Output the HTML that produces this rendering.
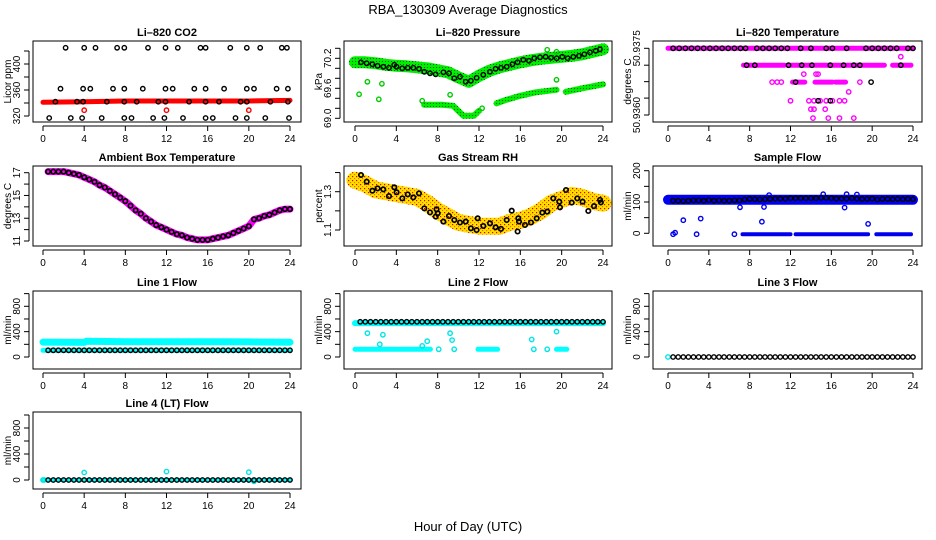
<!DOCTYPE html>
<html><head><meta charset="utf-8"><style>
html,body{margin:0;padding:0;background:#fff}
svg{display:block;font-family:"Liberation Sans",sans-serif}
</style></head><body>
<svg id="chart" width="936" height="540" viewBox="0 0 936 540">
<defs>
<pattern id="rhpat" width="4" height="4" patternUnits="userSpaceOnUse">
<rect width="4" height="4" fill="#ffe000"/><rect x="0" y="0" width="1.2" height="1.2" fill="#e00000"/><rect x="2" y="2" width="1.2" height="1.2" fill="#f07000"/>
</pattern>
<pattern id="prpat" width="3" height="3" patternUnits="userSpaceOnUse">
<rect width="3" height="3" fill="#00ee00"/><rect x="1" y="1" width="1" height="1" fill="#006000"/>
</pattern>
</defs>
<text x="468" y="14" text-anchor="middle" font-size="13">RBA_130309  Average Diagnostics</text>
<text x="468" y="531" text-anchor="middle" font-size="13">Hour of Day (UTC)</text>
</svg>
<script>
// ---------- data ----------
const xTicks = [0,4,8,12,16,20,24];
// CO2
const co2BandH = [0,4,8,12,16,20,24];
const co2BandV = [341,342,343,343,343,343,344];
const co2RedH = [4,12,20];
const co2RedV = [329,329,329];
const co2BlackH = [2.2,4.0,5.1,7.2,7.9,10.2,11.9,13.1,15.3,15.8,18.2,19.8,21.1,23.2,23.7,
 1.7,3.9,4.6,6.8,7.9,9.7,11.9,12.6,14.7,15.8,17.6,19.8,20.5,22.7,23.8,
 1.2,3.3,3.9,6.2,7.9,9.1,11.2,11.9,14.2,15.8,17.1,19.2,19.8,22.1,23.8,
 0.6,2.7,3.8,5.7,7.9,8.6,10.7,11.8,13.6,15.8,16.5,18.7,19.8,21.6,23.9];
const co2BlackV = [425,425,425,425,425,425,425,425,425,425,425,425,425,425,425,
 362,362,362,362,362,362,362,362,362,362,362,362,362,362,362,
 342,342,342,342,342,342,342,342,342,342,342,342,342,342,342,
 317,317,317,317,317,317,317,317,317,317,317,317,317,317,317];
// Pressure
const prBandH = [0,1,2,3,4,5,6,7,8,9,10,11,12,13,14,15,16,17,18,19,20,21,22,23,24];
const prBandV = [70.12,70.12,70.10,70.07,70.05,70.04,70.02,70.00,69.96,69.92,69.82,69.73,69.85,69.95,70.02,70.07,70.12,70.16,70.19,70.21,70.23,70.25,70.28,70.33,70.38];
const prLowH = [6.7,7.5,8.5,9.5,10.0,10.5,11.5,12.0,NaN,13.7,14.5,16.0,17.5,19.5,NaN,20.4,22,24];
const prLowV = [69.27,69.27,69.27,69.25,69.15,69.05,69.05,69.15,NaN,69.3,69.36,69.45,69.52,69.57,NaN,69.53,69.6,69.68];
const prGreenH = [0.4,1.2,2.3,2.6,6.5,9.2,18.6,19.5,19.5,12.3];
const prGreenV = [69.48,69.73,69.38,69.69,69.35,69.47,70.37,70.33,69.77,69.2];
const prBlackH = [0.58,1.13,1.68,2.19,2.74,3.29,3.80,4.03,4.58,5.10,5.64,6.19,6.71,7.26,7.81,8.55,9.10,9.61,10.16,10.71,11.22,11.77,12.42,13.06,13.61,14.13,14.68,15.23,15.74,16.29,16.84,17.35,17.90,18.45,18.97,19.52,20.06,20.58,21.13,21.68,22.19,22.74,23.29,23.71];
const prBlackV = [70.12,70.10,70.08,70.05,70.03,70.01,70.07,70.03,70.0,70.01,70.01,69.99,69.93,69.90,69.88,69.92,69.90,69.80,69.83,69.73,69.75,69.81,69.87,69.93,69.99,70.01,70.03,70.08,70.12,70.17,70.15,70.2,70.22,70.23,70.21,70.2,70.23,70.2,70.23,70.25,70.28,70.32,70.35,70.38];
// Li-820 Temperature
const tpSegStart = [0,7.4,11.7,22.0,12.2,14.4,16.4];
const tpSegEnd   = [24,11.4,21.2,23.8,13.4,16.1,17.4];
const tpSegV = [50.9375,50.93712,50.93712,50.93712,50.93674,50.93674,50.93674];
const tpMagH = [22.8,13.3,14.5,14.7,10.2,10.7,11.1,18.8,17.7,12.0,13.8,14.3,14.9,15.5,16.1,16.8,17.3,14.0,14.3,15.4,14.2,15.7,16.8,18.2];
const tpMagV = [50.93731,50.93692,50.93692,50.93692,50.93674,50.93674,50.93674,50.93674,50.93652,50.93632,50.93632,50.93632,50.93632,50.93632,50.93632,50.93632,50.93632,50.93613,50.93613,50.93613,50.93593,50.93593,50.93593,50.93593];
const tpBlackH = [0.5,1.1,1.7,2.3,2.9,3.5,4.1,4.7,5.3,5.9,6.5,7.1,7.6,8.7,9.3,9.9,10.5,11.1,11.7,13.0,14.0,15.5,16.1,17.5,19.4,20.0,20.6,21.2,21.8,22.4,23.5,24.0,
 7.7,8.5,11.8,13.1,14.1,15.9,17.2,18.2,18.8,22.8,12.5,19.9,14.7,15.9];
const tpBlackV = [50.9375,50.9375,50.9375,50.9375,50.9375,50.9375,50.9375,50.9375,50.9375,50.9375,50.9375,50.9375,50.9375,50.9375,50.9375,50.9375,50.9375,50.9375,50.9375,50.9375,50.9375,50.9375,50.9375,50.9375,50.9375,50.9375,50.9375,50.9375,50.9375,50.9375,50.9375,50.9375,
 50.93712,50.93712,50.93712,50.93712,50.93712,50.93712,50.93712,50.93712,50.93712,50.93712,50.93674,50.93674,50.93632,50.93632];
// Ambient box temperature
const ambH = [0.5,1,1.5,2,2.5,3,3.5,4,4.5,5,5.5,6,6.5,7,7.5,8,8.5,9,9.5,10,10.5,11,11.5,12,12.5,13,13.5,14,14.5,15,15.5,16,16.5,17,17.5,18,18.5,19,19.5,20,20.5,21,21.5,22,22.5,23,23.5,24];
const ambV = [17.1,17.1,17.1,17.1,17.0,16.9,16.8,16.6,16.4,16.2,15.9,15.7,15.4,15.1,14.8,14.5,14.1,13.7,13.4,13.0,12.7,12.4,12.2,12.0,11.8,11.6,11.5,11.3,11.2,11.1,11.1,11.1,11.2,11.3,11.4,11.5,11.7,11.9,12.1,12.3,12.9,13.0,13.2,13.3,13.5,13.7,13.8,13.8];
// Gas stream RH
const rhBandH = [0,1,2,3,4,5,6,7,8,9,10,11,12,13,14,15,16,17,18,19,20,21,22,23,24];
const rhBandV = [1.36,1.34,1.31,1.30,1.29,1.28,1.27,1.24,1.20,1.17,1.14,1.13,1.12,1.12,1.12,1.14,1.15,1.17,1.20,1.24,1.26,1.28,1.27,1.25,1.24];
const rhBlackH = [0.58,1.13,1.68,2.19,2.74,3.29,3.80,4.03,4.58,5.10,5.64,6.19,6.71,7.26,7.81,7.90,8.0,8.55,9.10,9.61,10.16,10.71,11.22,11.77,11.87,12.42,13.06,13.61,14.13,14.68,15.16,15.74,15.8,15.87,16.45,17.03,17.58,18.13,18.61,19.19,19.77,19.84,20.42,20.97,21.51,22.03,22.58,23.13,23.71,23.8];
const rhBlackV = [1.387,1.352,1.305,1.317,1.312,1.277,1.323,1.297,1.265,1.286,1.270,1.291,1.213,1.192,1.170,1.208,1.187,1.144,1.173,1.152,1.139,1.144,1.109,1.100,1.161,1.121,1.135,1.114,1.106,1.152,1.201,1.092,1.161,1.144,1.126,1.139,1.161,1.191,1.196,1.265,1.248,1.218,1.309,1.243,1.265,1.248,1.199,1.225,1.257,1.244];
// Sample flow
const sfBandH = [0,24];
const sfBandV = [107,107];
const sfLowH = [7.3,12.0,NaN,12.5,19.6,NaN,20.4,23.8];
const sfLowV = [-3,-3,NaN,-3,-3,NaN,-3,-3];
const sfBlueH = [0.5,0.7,1.5,2.8,3.2,7.05,9.2,9.4,17.3,19.6,6.5,9.9,15.2,17.5,18.5];
const sfBlueV = [-3,2,42,-3,47,83,37,84,82,30,-3,122,125,125,124];
const sfBlackH = [0.5,1,1.5,2,2.5,3,3.5,4,4.5,5,5.5,6,6.5,7,7.5,8,8.5,9,9.5,10,10.5,11,11.5,12,12.5,13,13.5,14,14.5,15,15.5,16,16.5,17,17.5,18,18.5,19,19.5,20,20.5,21,21.5,22,22.5,23,23.5,24];
const sfBlackV = [104,104,103,104,105,105,104,106,104,105,104,104,105,105,108,110,109,108,109,110,111,111,111,112,112,112,112,112,112,113,113,112,111,111,111,112,111,110,110,111,108,110,110,109,110,109,110,109];
// Line flows
const lnBlackH = [0.5,1,1.5,2,2.5,3,3.5,4,4.5,5,5.5,6,6.5,7,7.5,8,8.5,9,9.5,10,10.5,11,11.5,12,12.5,13,13.5,14,14.5,15,15.5,16,16.5,17,17.5,18,18.5,19,19.5,20,20.5,21,21.5,22,22.5,23,23.5,24];
const l1BandH = [0,4,4.2,8,12,16,20,24];
const l1BandV = [235,230,248,242,242,240,238,232];
const l1LowH = [0,24];
const l1LowV = [105,105];
const l1BlackV = lnBlackH.map(()=>105);
const l2BandH = [0,24];
const l2BandV = [535,535];
const l2LowH = [0,7.3,NaN,11.9,13.8,NaN,19.5,20.5];
const l2LowV = [121,121,NaN,121,121,NaN,121,121];
const l2CyanH = [1.2,2.4,2.7,6.5,6.99,8.1,9.2,9.4,9.6,17.1,17.3,18.6,19.5];
const l2CyanV = [375,200,350,175,250,121,375,266,121,276,121,121,400];
const l2BlackV = lnBlackH.map(()=>555);
const l3CyanH = [0];
const l3CyanV = [0];
const l3BlackV = lnBlackH.map(()=>0);
const l4CyanH = [0,0.1,4,12,20,20.5];
const l4CyanV = [0,0,115,130,120,-20];
const l4BandH = [0,24];
const l4BandV = [0,0];
const l4BlackV = lnBlackH.map(()=>0);

// ---------- layout ----------
const cols = [{l:33,r:301,x0:43,x24:290},{l:344,r:612,x0:355,x24:603},{l:653,r:922,x0:668,x24:913}];
const rows = [{t:41,b:122},{t:166,b:246},{t:291,b:369},{t:412,b:489}];
const svg = document.getElementById('chart');
const NS = 'http://www.w3.org/2000/svg';
function mk(tag, attrs, parent){const e=document.createElementNS(NS,tag);for(const k in attrs)e.setAttribute(k,attrs[k]);(parent||svg).appendChild(e);return e;}

function panel(name, title, ylab, c, r, v1, p1, v2, p2, yt, yl){
  const C=cols[c], R=rows[r];
  const g=mk('g',{});
  
  
  const P={g,C,R,
    x:h=>C.x0+(C.x24-C.x0)*h/24,
    y:v=>p1+(v-v1)*(p2-p1)/(v2-v1)};
  const clip=mk('clipPath',{id:'clip-'+name},g);
  mk('rect',{x:C.l,y:R.t,width:C.r-C.l,height:R.b-R.t},clip);
  P.plot=mk('g',{'clip-path':'url(#clip-'+name+')'},g);
  
  
  const box=mk('rect',{x:C.l,y:R.t,width:C.r-C.l,height:R.b-R.t,fill:'none',stroke:'#000','stroke-width':1},g);
  
  
  const tt=mk('text',{x:(C.l+C.r)/2,y:R.t-5,'text-anchor':'middle','font-size':11,'font-weight':'bold'},g);
  tt.textContent=title;
  
  
  const xa=mk('g',{},g);
  
  
  const yb=R.b+4;
  mk('line',{x1:P.x(xTicks[0]),x2:P.x(xTicks[xTicks.length-1]),y1:yb,y2:yb,stroke:'#000'},xa);
  xTicks.forEach(t=>{
    mk('line',{x1:P.x(t),x2:P.x(t),y1:yb,y2:yb+5,stroke:'#000'},xa);
    const tx=mk('text',{x:P.x(t),y:yb+16,'text-anchor':'middle','font-size':10},xa);
    tx.textContent=t;
  });
  const ya=mk('g',{},g);
  
  
  const xl=C.l-4;
  mk('line',{x1:xl,x2:xl,y1:P.y(yt[0]),y2:P.y(yt[yt.length-1]),stroke:'#000'},ya);
  yt.forEach(t=>{mk('line',{x1:xl,x2:xl-5,y1:P.y(t),y2:P.y(t),stroke:'#000'},ya);});
  yl.forEach(t=>{
    const yy=P.y(parseFloat(t));
    const tx=mk('text',{x:xl-9,y:yy,'text-anchor':'middle','font-size':10,transform:'rotate(-90 '+(xl-9)+' '+yy+')'},ya);
    tx.textContent=t;
  });
  const yt2=mk('text',{x:C.l-22,y:(R.t+R.b)/2,'text-anchor':'middle','font-size':10,transform:'rotate(-90 '+(C.l-22)+' '+((R.t+R.b)/2)+')'},g);
  yt2.textContent=ylab;
  
  
  return P;
}
function band(P, hs, vs, color, w, nm){
  let d='', pen=false;
  for(let i=0;i<hs.length;i++){
    if(isNaN(hs[i])){pen=false;continue;}
    d+=(pen?'L':'M')+P.x(hs[i]).toFixed(1)+' '+P.y(vs[i]).toFixed(1)+' ';pen=true;
  }
  const p=mk('path',{d,fill:'none',stroke:color,'stroke-width':w,'stroke-linecap':'round','stroke-linejoin':'round'},P.plot);
  
  
}
function pts(P, hs, vs, color, nm, sw){
  const g=mk('g',{},P.plot);
  
  
  for(let i=0;i<hs.length;i++){
    const c=mk('circle',{cx:P.x(hs[i]).toFixed(1),cy:P.y(vs[i]).toFixed(1),r:2.2,fill:'none',stroke:color,'stroke-width':sw||1.4},g);
    
    
  }
}
function segs(P, s, e, v, color, w, nm){
  const hs=[],vs=[];
  for(let i=0;i<s.length;i++){hs.push(s[i],e[i],NaN);vs.push(v[i],v[i],NaN);}
  band(P,hs,vs,color,w,nm);
}

// ---------- panels ----------
let P;
P=panel('co2','Li\u2013820 CO2','Licor ppm',0,0,320,116,420,51,[320,340,360,380,400,420],['320','360','400']);
band(P,co2BandH,co2BandV,'#ff0000',5,'co2-raw-band');
pts(P,co2RedH,co2RedV,'#ff0000','co2-raw-outliers');
pts(P,co2BlackH,co2BlackV,'#000','co2-average');

P=panel('pressure','Li\u2013820 Pressure','kPa',1,0,69.0,118.3,70.2,58.3,[69.0,69.2,69.4,69.6,69.8,70.0,70.2,70.4],['69.0','69.6','70.2']);
band(P,prBandH,prBandV,'url(#prpat)',12,'pressure-raw-band');
band(P,prLowH,prLowV,'url(#prpat)',6,'pressure-low-band');
pts(P,prGreenH,prGreenV,'#00cc00','pressure-raw-outliers');
pts(P,prBlackH,prBlackV,'#000','pressure-average');

P=panel('temperature','Li\u2013820 Temperature','degrees C',2,0,50.9375,48.3,50.9360,115,[50.9375,50.93712,50.93675,50.93638,50.9360],['50.9375','50.9360']);
segs(P,tpSegStart,tpSegEnd,tpSegV,'#ff00ff',5,'temperature-raw-band');
pts(P,tpMagH,tpMagV,'#ff00ff','temperature-raw-points');
pts(P,tpBlackH,tpBlackV,'#000','temperature-average');

P=panel('ambient','Ambient Box Temperature','degrees C',0,1,17,172.7,11,241,[11,12,13,14,15,16,17],['11','13','15','17']);
band(P,ambH,ambV,'#ff00ff',7,'ambient-raw-band');
pts(P,ambH,ambV,'#000','ambient-average',1.7);

P=panel('rh','Gas Stream RH','percent',1,1,1.3,191.7,1.1,230,[1.1,1.2,1.3,1.4],['1.1','1.3']);
band(P,rhBandH,rhBandV,'url(#rhpat)',17,'rh-raw-band');
pts(P,rhBlackH,rhBlackV,'#000','rh-average',1.7);

P=panel('sampleflow','Sample Flow','ml/min',2,1,0,233.3,200,170.7,[0,50,100,150,200],['0','100','200']);
band(P,sfBandH,sfBandV,'#0000ee',10,'sample-flow-raw-band');
band(P,sfLowH,sfLowV,'#0000ee',4,'sample-flow-low-band');
pts(P,sfBlueH,sfBlueV,'#0000ee','sample-flow-raw-outliers');
pts(P,sfBlackH,sfBlackV,'#000','sample-flow-average');

const lt=[0,200,400,600,800,1000], ll=['0','400','800'];
P=panel('line1','Line 1 Flow','ml/min',0,2,0,357,800,306.3,lt,ll);
band(P,l1BandH,l1BandV,'#00ffff',7,'line1-raw-band');
band(P,l1LowH,l1LowV,'#00ffff',5,'line1-low-band');
pts(P,lnBlackH,l1BlackV,'#000','line1-average');

P=panel('line2','Line 2 Flow','ml/min',1,2,0,357,800,306.3,lt,ll);
band(P,l2BandH,l2BandV,'#00ffff',6,'line2-raw-band');
band(P,l2LowH,l2LowV,'#00ffff',5,'line2-low-band');
pts(P,l2CyanH,l2CyanV,'#00e5e5','line2-raw-outliers');
pts(P,lnBlackH,l2BlackV,'#000','line2-average');

P=panel('line3','Line 3 Flow','ml/min',2,2,0,357,800,306.3,lt,ll);
pts(P,l3CyanH,l3CyanV,'#00e5e5','line3-raw-points');
pts(P,lnBlackH,l3BlackV,'#000','line3-average');

P=panel('line4','Line 4 (LT) Flow','ml/min',0,3,0,480,800,428,lt,ll);
band(P,l4BandH,l4BandV,'#00ffff',4,'line4-raw-band');
pts(P,l4CyanH,l4CyanV,'#00e5e5','line4-raw-outliers');
pts(P,lnBlackH,l4BlackV,'#000','line4-average');
</script>
</body></html>
